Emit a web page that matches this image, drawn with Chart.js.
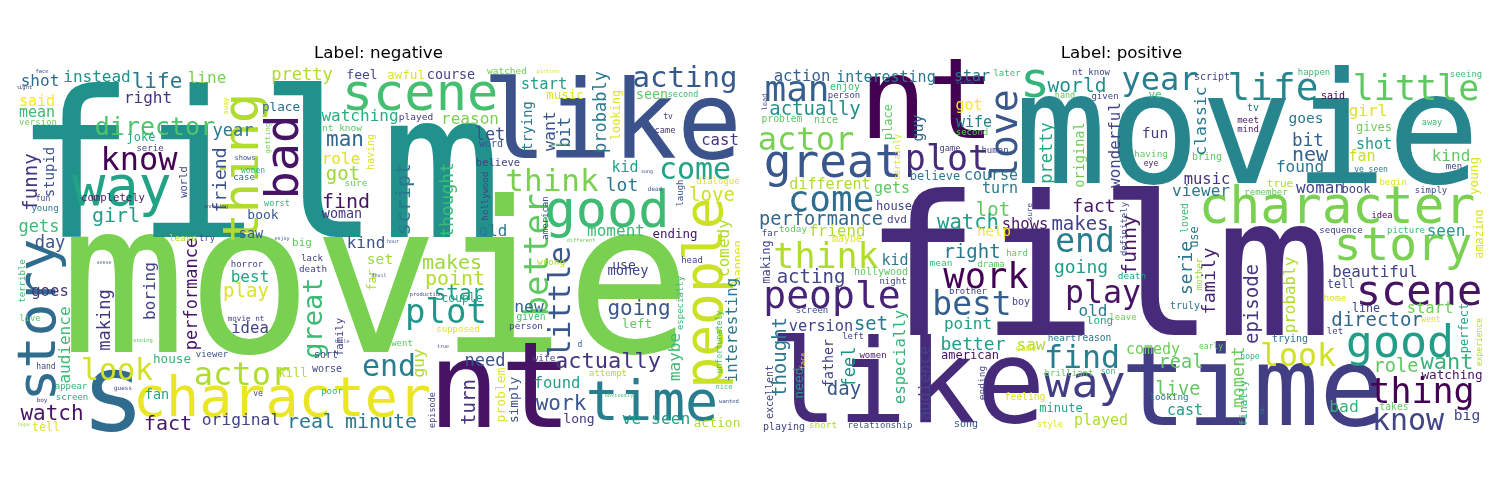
<!DOCTYPE html>
<html><head><meta charset="utf-8">
<script src="https://cdn.jsdelivr.net/npm/chart.js@4"></script>
<style>
html,body{margin:0;padding:0;background:#fff;}
body{width:1500px;height:500px;position:relative;overflow:hidden;}
.panel{position:absolute;top:40px;width:723px;height:392px;}
</style></head><body>
<div class="panel" style="left:17px"><canvas id="neg"></canvas></div>
<div class="panel" style="left:760px"><canvas id="pos"></canvas></div>
<script>
// ---- panel titles ----
const panelTitles = ["Label: negative", "Label: positive"];
// cloud canvas size (data units of both axes)
const CLOUD_W = 723, CLOUD_H = 362;

// ---- negative reviews: words, weights (font size ~ frequency), anchors, orientation, shade ----
const negWords = [
 "movie","film","like","nt","s","character","time","good","scene","way",
 "thing","story","bad","people","plot","end","think","come","actor","look",
 "know","acting","better","little","great","director","actually","going","work","watch",
 "fact","real","minute","point","makes","star","find","got","life","girl",
 "man","turn","love","play","funny","performance","script","thought","lot","let",
 "day","friend","pretty","instead","shot","line","said","right","mean","version",
 "year","away","joke","serie","stupid","world","shows","women","case","getting",
 "fun","completely","annoying","young","gets","leave","try","saw","book","face",
 "night","feel","awful","course","watched","place","watching","played","reason","nt know",
 "word","having","role","sure","believe","hollywood","worst","woman","old","enjoy",
 "big","kind","hour","picture","start","music","seen","second","probably","looking",
 "trying","want","bit","tv","came","cast","piece","kid","song","dialogue",
 "dead","american","laugh","different","moment","ending","comedy","happen","use","money",
 "head","wrong","new","given","left","person","d","especially","interesting","maybe",
 "unfortunately","wife","need","attempt","nice","obviously","found","problem","simply","long",
 "ve seen","action","wanted","goes","terrible","live","making","boring","audience","best",
 "horror","idea","movie nt","sense","seeing","house","viewer","hand","appear","guess",
 "screen","fan","boy","original","tell","hope","ve","lack","death","set",
 "far","production","couple","family","supposed","went","guy","sort","kill","worse",
 "poor","episode","title","true","devil"
];
const negWeights = [
 210,203,108,120,108,55,55,52,52,55,
 50,54,47,53,34,30,31,30,32,30,
 32,29,34,31,27,25,22,21,21,21,
 20,20,20,20,20,21,20,19,21,20,
 21,19,19,19,19,17,20,18,18,17,
 17,18,17,16,16,16,15,16,15,9,
 17,7,12,9,14,10.5,7,8,9,7.3,
 8,10.6,5,9,17,9.3,8.8,13.5,13,5.5,
 5.5,13,12.7,13.4,9.5,12.7,16,9.5,16,9.5,
 10,10,16,9.5,10.5,9,8.6,13.4,15.8,5,
 11,16,5,5.5,15.5,12.4,13.4,8.5,17,12,
 13.7,16.5,17,8,8.7,15.6,5,15,5,9,
 6,9,9,5.3,16,12.5,16,12,13,13.7,
 9,9.3,16.4,9.6,12.6,9.4,8,9,15.8,16,
 8,9.5,17,9,7,5.3,15.5,13,12.8,13,
 16.3,13,5.5,15.6,9,8.7,17,16,16,16,
 9,15.6,7.6,5,5.5,12.7,9,8,9,6,
 9,13.5,6,16.3,11.7,5,8,9,9.3,14.6,
 12,5.4,11.4,10.5,9,9,16,10,12,10,
 9,8.5,5,5,5
];
const negX = [
 359,241,595,483,96,265,635,590,403,105,
 241,38,281,705,429,372,535,678,225,100,
 122,668,531,553,305,138,591,622,544,35,
 151,294,364,438,435,442,329,326,140,99,
 328,458,695,229,20,180,393,436,605,473,
 33,209,285,80,23,190,20,131,20,21,
 216,211,124,133,37,170,228,236,227,253,
 26,96,199,28,22,166,190,234,246,25,
 7,345,389,434,490,264,343,399,453,325,
 474,357,324,339,481,471,260,325,476,265,
 285,349,376,531,527,548,635,666,589,603,
 515,538,553,651,648,703,543,608,630,701,
 638,531,666,564,599,658,712,725,607,611,
 675,534,512,514,620,509,563,666,720,663,
 705,527,468,591,707,602,540,488,501,562,
 639,700,712,33,8,13,93,138,53,233,
 230,233,229,87,126,155,195,29,54,106,
 55,140,25,224,29,7,241,295,296,363,
 359,409,445,326,441,385,407,309,276,310,
 315,418,325,426,362
];
const negY = [
 282,167,88,357,360,346,350,157,40,135,
 98,250,87,223,253,306,121,109,315,310,
 100,17,185,232,248,65,298,245,340,350,
 360,358,358,215,199,230,138,110,18,152,
 76,332,131,227,112,224,129,130,121,70,
 178,110,10,12,16,13,36,33,47,55,
 66,36,71,81,102,112,90,103,110,68,
 131,131,138,141,162,171,171,168,149,3,
 19,9,9,9,4,41,51,50,54,61,
 77,82,94,116,96,126,136,148,166,170,
 176,178,173,3,19,29,29,27,42,45,
 56,61,62,49,63,75,76,102,103,114,
 121,148,123,172,166,168,178,192,199,205,
 193,195,242,250,258,259,277,233,260,287,
 272,291,296,306,319,327,318,325,330,353,
 354,357,333,226,211,251,250,221,275,212,
 197,263,251,194,272,293,287,299,319,320,
 330,329,332,355,361,356,326,191,202,194,
 210,226,232,267,262,276,293,288,307,302,
 324,340,273,278,207
];
const negTurned = [
 0,0,0,0,0,0,0,0,0,0,
 1,1,1,1,0,0,0,0,0,0,
 0,0,1,1,1,0,0,0,0,0,
 0,0,0,0,0,0,0,0,0,0,
 0,1,0,0,1,1,1,1,0,0,
 0,1,0,0,0,0,0,0,0,0,
 0,1,0,0,1,1,0,0,0,1,
 0,0,0,0,0,0,0,0,0,0,
 0,0,0,0,0,0,0,0,0,0,
 0,1,0,0,0,1,0,0,0,0,
 0,0,0,0,0,0,0,0,1,1,
 1,1,1,0,0,0,0,0,0,0,
 0,1,1,0,0,0,1,1,0,0,
 0,0,0,0,0,0,0,1,1,1,
 1,0,0,0,0,0,0,1,1,0,
 0,0,0,0,1,0,1,1,1,0,
 0,0,0,0,0,0,0,0,0,0,
 0,0,0,0,0,0,0,0,0,0,
 1,0,0,1,0,0,1,0,0,0,
 0,1,0,0,0
];
const negShade = [
 .8,.5,.25,.05,.35,.97,.42,.68,.7,.58,
 .88,.35,.05,.92,.52,.42,.8,.58,.88,.93,
 0,.28,.75,.27,.68,.72,.15,.27,.27,.05,
 .05,.4,.4,.88,.85,.55,.05,.85,.4,.55,
 .33,.15,.92,.95,.15,.05,.4,.68,.4,.25,
 .27,.25,.88,.5,.35,.8,1,.15,.68,.78,
 .4,.95,.62,.2,.25,.22,.25,.65,.33,.8,
 .2,.05,.2,.4,.68,.88,.2,.27,.27,.25,
 .2,.22,.95,.2,.78,.35,.62,.15,.8,.75,
 .25,.95,.95,.75,.2,.2,.65,.15,.4,.25,
 .75,.25,.25,.95,.55,.95,.75,.68,.4,.95,
 .4,.25,.3,.2,.15,.15,.75,.55,.25,.95,
 .25,.25,.25,.78,.68,.05,.88,.95,.2,.2,
 .2,.88,.33,.68,.75,.2,.3,.68,.4,.68,
 .68,.2,.25,.88,.7,.7,.55,.95,.25,.15,
 .55,.88,.25,.15,.68,.75,.15,.2,.68,.6,
 .2,.2,.2,.25,.75,.65,.25,.2,.65,.2,
 .62,.58,.2,.2,.95,.85,.2,.2,.2,.85,
 .88,.2,.55,.2,.95,.75,.88,.2,.88,.2,
 .65,.2,.2,.2,.25
];

// ---- positive reviews ----
const posWords = [
 "movie","film","like","time","nt","s","character","story","scene","good",
 "thing","know","people","great","man","actor","come","think","love","year",
 "world","life","little","work","best","plot","end","play","find","way",
 "fun","funny","serie","family","episode","moment","use","mother","loved","definitely",
 "sure","shows","makes","fact","viewer","music","wonderful","original","pretty","classic",
 "script","nt know","hand","given","ve","having","eye","bring","later","tv",
 "meet","mind","happen","said","seeing","girl","goes","bit","new","found",
 "gives","shot","fan","away","kind","young","men","ve seen","true","woman",
 "book","begin","remember","simply","idea","sequence","picture","seen","amazing","action",
 "interesting","star","lead","enjoy","person","sense","actually","problem","nice","got",
 "wife","place","guy","second","certainly","game","human","believe","course","different",
 "gets","turn","lot","house","performance","watch","dvd","friend","far","today",
 "help","maybe","making","acting","right","kid","hollywood","night","mean","drama",
 "brother","screen","version","set","point","better","left","american","women","thought",
 "excellent","need","father","feel","face","day","especially","audience","ending","playing",
 "short","relationship","song","hard","going","death","boy","old","truly","long",
 "leave","saw","heart","reason","came","comedy","early","real","brilliant","son",
 "live","feeling","looking","minute","cast","played","style","finally","hope","home",
 "beautiful","tell","probably","line","director","start","went","let","trying","perfect",
 "experience","look","role","want","watching","bad","takes","big","d"
];
const posWeights = [
 155,195,115,110,113,50,51,46,42,45,
 35,30,38,46,36,32,36,35,38,32,
 19.6,37.7,35,35.5,33,35,33,31.6,31.6,45,
 14.7,20,18,18.5,19,17,12,9,10,9,
 7.5,15.5,19,18,16,15.5,15.8,13.6,17,16.5,
 10,9,8.5,9,11,9.4,8,10,9,10,
 9,9,9,10,9,16,14.5,17.6,20,16,
 12,15,15,8.5,16,12.7,9,8,11,16,
 12,9,9,9,8.7,9,9,16,11.7,15.7,
 15,15,7,10,9,6,19,9.7,10,15,
 15,12,15,9,8.5,8.7,9,12,15,15,
 15,15,19,12,18.7,20.6,11,15.7,9,9.3,
 14,10,12,19,19,15,10,9,9.5,9,
 9,9,15.3,18.8,16,18,9,12,9,19,
 10,13,13.4,17,7,19,15.7,15.5,9.5,10,
 9.5,9,10,9,18,9.5,10,16,10,11,
 9,16,9.5,9.6,9,15,8,18.6,9,8,
 18.6,9.7,9.3,12,15,15,8.6,11,8,9.5,
 15.8,11.7,15.9,11.7,19,15.5,8,9,10,12,
 8,31.6,18.6,22,12.7,16.4,9.6,14.6,8
];
const posX = [
 487,338,147,493,167,275,577,643,659,640,
 662,648,72,73,37,46,71,66,257,400,
 317,513,656,226,212,187,325,343,322,325,
 395,376,432,455,498,484,438,442,428,367,
 272,265,320,334,441,447,360,324,292,446,
 452,331,305,345,395,391,391,447,247,493,
 488,488,554,573,706,608,546,548,550,540,
 614,614,602,672,691,718,694,611,520,560,
 596,633,506,671,622,581,646,686,723,42,
 126,212,7,85,84,205,55,22,66,209,
 214,132,163,212,140,190,235,175,231,70,
 132,240,233,134,61,208,137,77,10,33,
 234,87,10,51,212,135,121,133,181,231,
 208,52,61,111,208,213,93,210,113,26,
 13,43,73,95,45,84,145,170,225,24,
 63,120,206,257,321,372,261,333,425,340,
 363,271,302,334,266,393,451,421,309,348,
 418,265,409,301,425,341,290,487,490,575,
 615,581,535,606,617,670,671,575,530,708,
 722,538,636,687,692,584,634,707,502
];
const posY = [
 113,265,352,355,68,27,153,190,235,287,
 333,360,238,107,31,80,141,198,65,20,
 22,30,30,218,245,100,182,233,298,327,
 68,175,198,211,234,307,167,204,148,159,
 142,159,160,142,126,114,75,85,83,51,
 10,5,28,29,28,87,96,90,6,41,
 53,62,5,29,7,46,53,76,91,102,
 61,79,91,55,91,106,99,102,117,123,
 123,115,125,123,148,163,163,166,164,11,
 12,11,32,20,28,14,45,52,53,40,
 57,52,58,65,87,81,83,110,110,119,
 123,123,146,140,155,159,153,166,166,162,
 166,172,192,213,188,195,205,214,196,197,
 224,243,261,260,259,280,269,289,288,287,
 322,313,293,297,291,325,287,313,313,360,
 358,358,357,186,203,209,235,246,239,254,
 250,280,271,271,281,284,279,298,306,304,
 325,330,330,342,345,355,357,333,289,231,
 207,218,225,242,256,243,252,264,272,258,
 272,296,302,299,309,342,340,350,344
];
const posTurned = [
 0,0,0,0,0,0,0,0,0,0,
 0,0,0,0,0,0,0,0,1,0,
 0,0,0,0,0,0,0,0,0,0,
 0,1,1,1,1,1,1,1,1,1,
 1,0,0,0,0,0,1,1,1,1,
 0,0,0,0,0,0,0,0,0,0,
 0,0,0,0,0,0,0,0,0,0,
 0,0,0,0,0,1,0,0,0,0,
 0,0,0,0,0,0,0,0,1,0,
 0,0,1,0,0,0,0,0,0,0,
 0,1,1,0,1,0,0,0,0,0,
 0,0,0,0,0,0,0,0,0,0,
 0,0,1,0,0,0,0,0,0,0,
 0,0,0,0,0,0,0,0,0,1,
 1,1,1,1,1,0,1,1,1,0,
 0,0,0,0,0,0,0,0,0,0,
 0,0,0,0,0,0,0,0,0,0,
 0,0,0,0,0,0,0,1,0,0,
 0,0,1,0,0,0,0,0,0,1,
 1,0,0,0,0,0,0,0,0
];
const posShade = [
 .45,.12,.12,.18,0,.65,.8,.8,.05,.55,
 0,.2,.1,.27,.3,.8,.35,.88,.27,.42,
 .5,.45,.75,0,.3,.12,.42,.05,.42,.18,
 .18,.05,.4,.1,.15,.78,.4,.85,.68,.25,
 .25,.05,.2,.05,.4,.15,.2,.78,.6,.4,
 .2,.2,.75,.2,.68,.75,.05,.75,.68,.4,
 .05,.05,.68,0,.68,.95,.4,.3,.3,.4,
 .78,.55,.92,.68,.75,.95,.2,.4,.88,.2,
 .2,.95,.75,.2,0,.2,.68,.55,.95,.3,
 .4,.4,.2,.68,.2,.25,.5,.75,.75,1,
 .42,.75,.33,.75,.95,.2,.2,.4,.4,.88,
 .75,.4,.75,.2,.33,.55,.2,.88,.2,.75,
 1,.95,.2,.2,.4,.4,.75,.2,.68,.75,
 .2,.25,.2,.4,.55,.55,.2,.05,.05,.4,
 .2,.55,.2,.5,1,.27,.65,.2,.2,.2,
 .88,.25,.25,.75,.55,.55,.2,.4,.4,.6,
 .78,.88,.4,.4,.95,.78,.75,.75,.75,.65,
 .75,.95,.4,.55,.55,.88,.95,.65,.65,.95,
 .2,.2,.88,.2,.33,.78,.95,.2,.4,.6,
 .88,.93,.75,.65,.05,.65,.75,.2,.4
];

// ---- viridis colour map ----
const viridisStops = ["#440154","#482475","#414487","#355f8d","#2a788e","#21918c","#22a884","#44bf70","#7ad151","#bddf26","#fde725"];
function hex2rgb(h){return [parseInt(h.slice(1,3),16),parseInt(h.slice(3,5),16),parseInt(h.slice(5,7),16)];}
function viridis(t){
  t=Math.max(0,Math.min(1,t));
  const p=t*(viridisStops.length-1), i=Math.min(Math.floor(p),viridisStops.length-2), f=p-i;
  const a=hex2rgb(viridisStops[i]), b=hex2rgb(viridisStops[i+1]);
  return "rgb("+a.map((v,k)=>Math.round(v+(b[k]-v)*f)).join(",")+")";
}

const wordPlugin = {
  id: "wordcloudText",
  afterDatasetsDraw(chart){
    const ds = chart.data.datasets[0];
    const meta = chart.getDatasetMeta(0);
    const k = chart.chartArea.width / CLOUD_W;
    const ctx = chart.ctx;
    meta.data.forEach((el, i) => {
      const fs = ds.weights[i] * k;
      ctx.save();
      ctx.font = fs.toFixed(2) + 'px "DejaVu Sans Mono"';
      ctx.fillStyle = viridis(ds.shades[i]);
      ctx.textAlign = "center";
      ctx.textBaseline = "alphabetic";
      if (ds.turned[i]) {
        ctx.translate(el.x, el.y);
        ctx.rotate(-Math.PI / 2);
        ctx.fillText(ds.words[i], 0, 0);
      } else {
        ctx.fillText(ds.words[i], el.x, el.y);
      }
      ctx.restore();
    });
  }
};

function makeCloud(id, title, words, weights, xs, ys, turned, shades){
  new Chart(document.getElementById(id), {
    type: "scatter",
    data: { datasets: [{
      data: words.map((w, i) => ({ x: xs[i], y: ys[i] })),
      words: words, weights: weights, turned: turned, shades: shades,
      pointRadius: 0, pointHoverRadius: 0, showLine: false
    }]},
    options: {
      responsive: true, maintainAspectRatio: false, animation: false,
      devicePixelRatio: 1,
      layout: { padding: 0, autoPadding: false },
      events: [],
      scales: {
        x: { type: "linear", min: 0, max: CLOUD_W, display: false },
        y: { type: "linear", min: 0, max: CLOUD_H, reverse: true, display: false }
      },
      plugins: {
        legend: { display: false },
        tooltip: { enabled: false },
        title: { display: true, text: title, color: "#000",
          font: { family: "DejaVu Sans", size: 16.7, weight: "normal", lineHeight: 1.2 },
          padding: { top: 4, bottom: 6 } }
      }
    },
    plugins: [wordPlugin]
  });
}

makeCloud("neg", panelTitles[0], negWords, negWeights, negX, negY, negTurned, negShade);
makeCloud("pos", panelTitles[1], posWords, posWeights, posX, posY, posTurned, posShade);
</script>
</body></html>
